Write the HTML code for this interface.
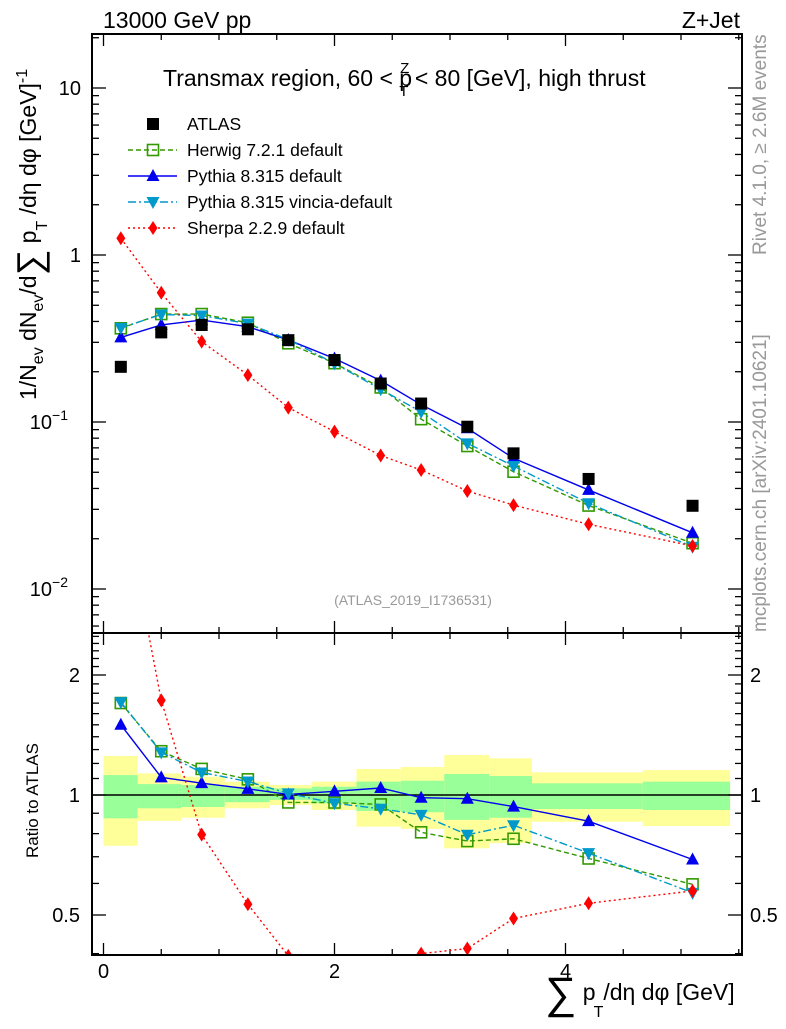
<!DOCTYPE html>
<html><head><meta charset="utf-8"><style>
body{margin:0;background:#fff}
text{font-family:"Liberation Sans",sans-serif}
</style></head><body>
<svg id="c" width="786" height="1024" xmlns="http://www.w3.org/2000/svg">
<defs>
<clipPath id="cm"><rect x="92" y="34" width="650" height="599"/></clipPath>
<clipPath id="cr"><rect x="92" y="633" width="650" height="322"/></clipPath>
</defs>
<g id="bands" clip-path="url(#cr)"></g>
<g id="grid"></g>
<g id="series"></g>
<rect x="92" y="34" width="650" height="599" fill="none" stroke="#000" stroke-width="2"/>
<rect x="92" y="633" width="650" height="322" fill="none" stroke="#000" stroke-width="2"/>
<text x="103" y="28" font-size="23">13000 GeV pp</text>
<text x="740" y="28" font-size="23" text-anchor="end">Z+Jet</text>
<text x="163" y="86" font-size="23">Transmax region, 60 &lt; p<tspan font-size="15" dx="-12" dy="-13">Z</tspan><tspan font-size="15" dx="-10" dy="23">T</tspan><tspan dy="-10"> &lt; 80 [GeV], high thrust</tspan></text>
<text x="413" y="605" font-size="14" fill="#999" text-anchor="middle">(ATLAS_2019_I1736531)</text>
<text transform="translate(766,255) rotate(-90)" font-size="19" fill="#999">Rivet 4.1.0, ≥ 2.6M events</text>
<text transform="translate(766,632) rotate(-90)" font-size="19" fill="#999">mcplots.cern.ch [arXiv:2401.10621]</text>
<text transform="translate(36,400) rotate(-90)" font-size="23">1/N<tspan font-size="16" dy="7">ev</tspan><tspan dy="-7"> dN</tspan><tspan font-size="16" dy="7">ev</tspan><tspan dy="-7">/d</tspan><tspan font-size="36" dy="6">∑</tspan><tspan dy="-6"> p</tspan><tspan font-size="16" dy="11">T</tspan><tspan dy="-11"> /dη dφ  [GeV]</tspan><tspan font-size="16" dy="-9">-1</tspan></text>
<text transform="translate(38,858) rotate(-90)" font-size="17">Ratio to ATLAS</text>
<text x="545" y="1000" font-size="23"><tspan font-size="44" dy="8">∑</tspan><tspan dy="-8"> p</tspan><tspan font-size="16" dx="-2" dy="17">T</tspan><tspan dy="-17">/dη dφ [GeV]</tspan></text>
<g id="legend"></g>
</svg>
<script>
const xs=[0.15,0.5,0.85,1.25,1.6,2.0,2.4,2.75,3.15,3.55,4.2,5.1];
const atlas=[0.214,0.344,0.381,0.359,0.309,0.235,0.170,0.129,0.0937,0.0649,0.0456,0.0315];
const herwig=[0.364,0.443,0.443,0.393,0.296,0.225,0.161,0.104,0.0718,0.0504,0.0316,0.0188];
const pythia=[0.321,0.381,0.408,0.372,0.310,0.240,0.177,0.127,0.0917,0.0607,0.0392,0.0217];
const vincia=[0.366,0.440,0.434,0.388,0.312,0.224,0.157,0.115,0.0745,0.0545,0.0326,0.0179];
const sherpa=[1.26,0.594,0.303,0.191,0.122,0.0875,0.0630,0.0516,0.0386,0.0318,0.0244,0.0181];
const binEdges=[0,0.295,0.673,1.05,1.44,1.805,2.19,2.575,2.95,3.34,3.71,4.67,5.425];
const yelHi=[1.253,1.133,1.111,1.080,1.059,1.080,1.162,1.176,1.26,1.236,1.14,1.155];
const yelLo=[0.746,0.861,0.877,0.926,0.944,0.917,0.833,0.822,0.735,0.757,0.857,0.836];
const grnHi=[1.122,1.065,1.059,1.049,1.039,1.049,1.080,1.086,1.129,1.116,1.070,1.080];
const grnLo=[0.874,0.926,0.933,0.959,0.972,0.953,0.912,0.905,0.866,0.877,0.922,0.917];
const xTicks=[0,2,4];
const yTickLabels=[[1,"10",""],[0,"1",""],[-1,"10","−1"],[-2,"10","−2"]];
const rTicks=[0.5,1,2];

const NS="http://www.w3.org/2000/svg";
const X=v=>103.5+115.5*v;
const Y=v=>255-167*Math.log10(v);
const R=r=>795-120*Math.log2(r);
function mk(tag,attrs,parent){const e=document.createElementNS(NS,tag);for(const k in attrs)e.setAttribute(k,attrs[k]);parent.appendChild(e);return e;}
const grid=document.getElementById('grid'),bands=document.getElementById('bands'),ser=document.getElementById('series'),leg=document.getElementById('legend');

for(let i=0;i<binEdges.length-1;i++){
  const x0=X(binEdges[i]),x1=X(binEdges[i+1]);
  const y=mk('rect',{x:x0,y:R(yelHi[i]),width:x1-x0,height:R(yelLo[i])-R(yelHi[i]),fill:'#ffff99'},bands);
  
  
  const g=mk('rect',{x:x0,y:R(grnHi[i]),width:x1-x0,height:R(grnLo[i])-R(grnHi[i]),fill:'#99ff99'},bands);
  
  
}
mk('line',{x1:92,x2:742,y1:R(1),y2:R(1),stroke:'#000','stroke-width':1.5},bands);

for(let v=0;v<=5.5;v+=0.5){
  const maj=xTicks.includes(v);const L=maj?12:6;
  for(const [t,b] of [[34,633],[633,955]]){
    mk('line',{x1:X(v),x2:X(v),y1:b,y2:b-L,stroke:'#000','stroke-width':1.3},grid);
    mk('line',{x1:X(v),x2:X(v),y1:t,y2:t+L,stroke:'#000','stroke-width':1.3},grid);
  }
}
xTicks.forEach(v=>{const t=mk('text',{x:X(v),y:978,'font-size':20,'text-anchor':'middle'},grid);t.textContent=v;

});
for(let d=-3;d<=1;d++)for(let m=1;m<10;m++){const v=m*Math.pow(10,d);const y=Y(v);if(y<34||y>633)continue;const L=m==1?14:7;
  mk('line',{x1:92,x2:92+L,y1:y,y2:y,stroke:'#000','stroke-width':1.3},grid);
  mk('line',{x1:742,x2:742-L,y1:y,y2:y,stroke:'#000','stroke-width':1.3},grid);}
yTickLabels.forEach(([e,b,s])=>{const t=mk('text',{x:s?68:81,y:Y(Math.pow(10,e))+7,'font-size':20,'text-anchor':'end'},grid);t.textContent=b;
 if(s){const ts=mk('tspan',{'font-size':14,dy:-9},t);ts.textContent=s;}
 
 });
for(let r=0.4;r<=2.55;r+=0.1){const rr=Math.round(r*10)/10;const y=R(rr);if(y<633||y>955)continue;const L=rTicks.includes(rr)?14:7;
  mk('line',{x1:92,x2:92+L,y1:y,y2:y,stroke:'#000','stroke-width':1.3},grid);
  mk('line',{x1:742,x2:742-L,y1:y,y2:y,stroke:'#000','stroke-width':1.3},grid);}
rTicks.forEach(r=>{for(const [x,a] of [[80,'end'],[750,'start']]){const t=mk('text',{x:x,y:R(r)+7,'font-size':20,'text-anchor':a},grid);t.textContent=r;
 
 }});

function marker(type,x,y,col,p){
  if(type=='sq')return mk('rect',{x:x-6,y:y-6,width:12,height:12,fill:'#000'},p);
  if(type=='osq')return mk('rect',{x:x-5.5,y:y-5.5,width:11,height:11,fill:'none',stroke:col,'stroke-width':1.6},p);
  if(type=='tri')return mk('polygon',{points:`${x},${y-7} ${x-6.5},${y+5} ${x+6.5},${y+5}`,fill:col},p);
  if(type=='itri')return mk('polygon',{points:`${x},${y+7} ${x-6.5},${y-5} ${x+6.5},${y-5}`,fill:col},p);
  if(type=='dia')return mk('polygon',{points:`${x},${y-7} ${x-4.5},${y} ${x},${y+7} ${x+4.5},${y}`,fill:col},p);
}
const S=[
 {n:'herwig',d:herwig,c:'#339900',m:'osq',dash:'5,3',lab:'Herwig 7.2.1 default'},
 {n:'pythia',d:pythia,c:'#0000ee',m:'tri',dash:'',lab:'Pythia 8.315 default'},
 {n:'vincia',d:vincia,c:'#0099cc',m:'itri',dash:'8,3,2,3',lab:'Pythia 8.315 vincia-default'},
 {n:'sherpa',d:sherpa,c:'#ff0000',m:'dia',dash:'2,3',lab:'Sherpa 2.2.9 default'}];
const gm=mk('g',{'clip-path':'url(#cm)'},ser),gr=mk('g',{'clip-path':'url(#cr)'},ser);
S.forEach(s=>{
  const pm=s.d.map((v,i)=>X(xs[i])+','+Y(v)).join(' ');
  const pr=s.d.map((v,i)=>X(xs[i])+','+R(v/atlas[i])).join(' ');
  const l1=mk('polyline',{points:pm,fill:'none',stroke:s.c,'stroke-width':1.4,'stroke-dasharray':s.dash},gm);
  
  
  const l2=mk('polyline',{points:pr,fill:'none',stroke:s.c,'stroke-width':1.4,'stroke-dasharray':s.dash},gr);
  
  
  s.d.forEach((v,i)=>{
    const a=marker(s.m,X(xs[i]),Y(v),s.c,gm);
    
    
    const b=marker(s.m,X(xs[i]),R(v/atlas[i]),s.c,gr);
    
    
  });
});
atlas.forEach((v,i)=>{const a=marker('sq',X(xs[i]),Y(v),'#000',gm);
  
  });
const m0=marker('sq',153,124,'#000',leg);


let t0=mk('text',{x:187,y:130,'font-size':17.5},leg);t0.textContent='ATLAS';


S.forEach((s,i)=>{const y=150+26*i;
  mk('line',{x1:128,x2:177,y1:y,y2:y,stroke:s.c,'stroke-width':1.4,'stroke-dasharray':s.dash},leg);
  const mm=marker(s.m,153,y,s.c,leg);
  
  
  const t=mk('text',{x:187,y:y+6,'font-size':17.5},leg);t.textContent=s.lab;
  
  });
</script>
</body></html>
